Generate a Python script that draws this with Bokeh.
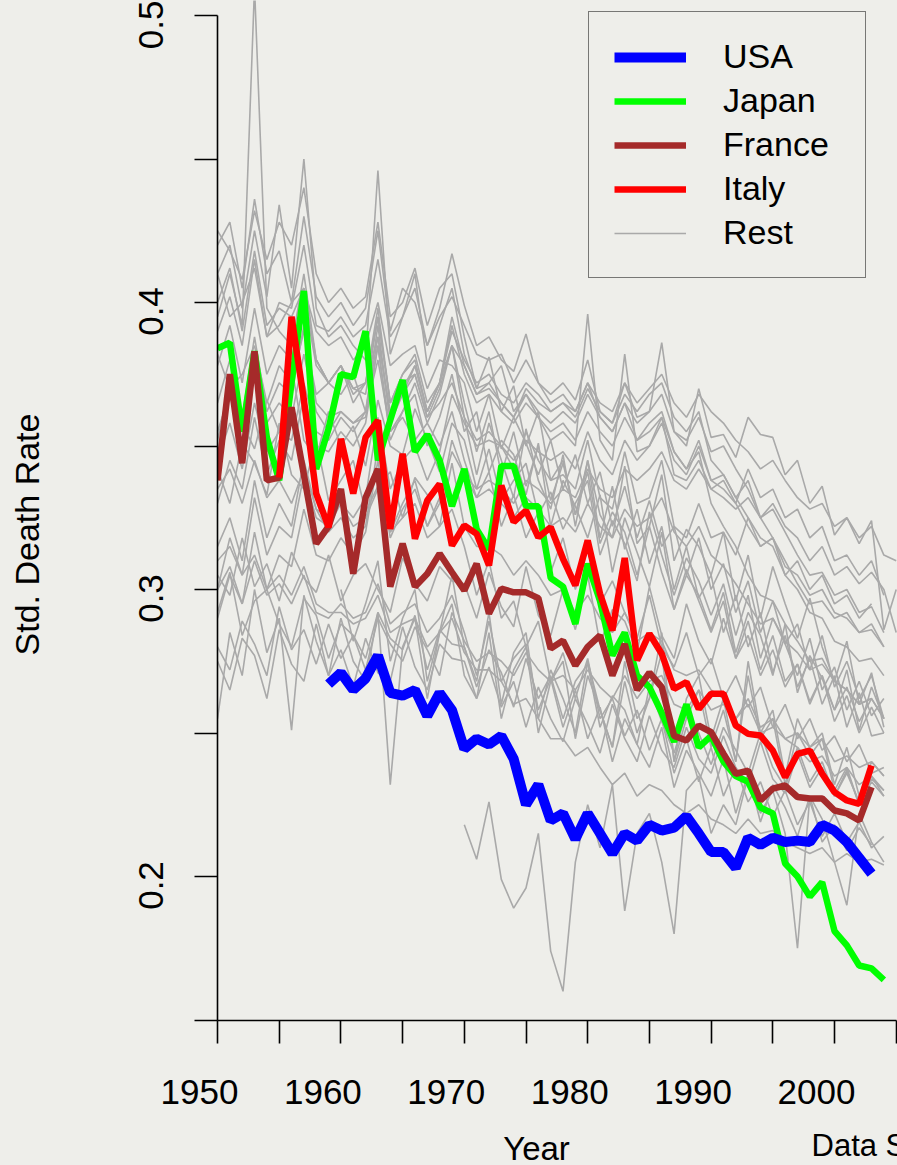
import math
from bokeh.plotting import figure
from bokeh.layouts import column, row
from bokeh.models import (Range1d, LinearAxis, FixedTicker, Legend, LegendItem, Label,
                          CustomJSTickFormatter)
from bokeh.embed import file_html
from bokeh.resources import INLINE

# ---------------- data ----------------
usa_start = 1959
usa = [0.267, 0.271, 0.265, 0.269, 0.277, 0.264, 0.263, 0.265, 0.256, 0.264, 0.258,
       0.2445, 0.248, 0.246, 0.249, 0.241, 0.225, 0.232, 0.2195, 0.222, 0.213,
       0.222, 0.215, 0.208, 0.215, 0.2125, 0.218, 0.216, 0.217, 0.221, 0.215,
       0.2085, 0.2085, 0.203, 0.2135, 0.211, 0.2135, 0.212, 0.2125, 0.212, 0.218,
       0.216, 0.212, 0.2065, 0.201]

japan_start = 1950
japan = [0.384, 0.386, 0.355, 0.383, 0.353, 0.338, 0.372, 0.404, 0.342, 0.356,
         0.375, 0.374, 0.390, 0.345, 0.359, 0.373, 0.348, 0.354, 0.345, 0.329,
         0.342, 0.321, 0.314, 0.343, 0.343, 0.329, 0.329, 0.304, 0.301, 0.288,
         0.309, 0.296, 0.277, 0.285, 0.270, 0.266, 0.257, 0.247, 0.260, 0.245,
         0.249, 0.240, 0.235, 0.233, 0.224, 0.222, 0.2045, 0.200, 0.193, 0.198,
         0.181, 0.176, 0.169, 0.168, 0.164]

france_start = 1950
france = [0.338, 0.375, 0.344, 0.383, 0.338, 0.339, 0.3635, 0.340, 0.316, 0.322,
          0.335, 0.3055, 0.332, 0.342, 0.301, 0.316, 0.301, 0.3055, 0.3125, 0.306,
          0.2997, 0.309, 0.2916, 0.3003, 0.299, 0.299, 0.297, 0.2794, 0.2822, 0.2735,
          0.280, 0.284, 0.270, 0.281, 0.265, 0.271, 0.266, 0.249, 0.2474, 0.2526,
          0.2503, 0.2428, 0.2358, 0.2369, 0.2265, 0.2306, 0.2317, 0.2277, 0.2272, 0.2272,
          0.223, 0.222, 0.2195, 0.2311]

italy_start = 1955
italy = [0.339, 0.395, 0.366, 0.3334, 0.3217,
         0.3525, 0.3334, 0.353, 0.3589, 0.3211, 0.3473, 0.3177, 0.331, 0.3368, 0.3153,
         0.3223, 0.3194, 0.3084, 0.3362, 0.3235, 0.3275, 0.3182, 0.3217, 0.3107, 0.3014,
         0.3171, 0.2985, 0.2857, 0.311, 0.2753, 0.2846, 0.2776, 0.2654, 0.2677, 0.2584,
         0.2637, 0.2637, 0.2526, 0.2497, 0.2491, 0.2439, 0.2346, 0.2427, 0.2439, 0.2358,
         0.2294, 0.2265, 0.2253, 0.2387]

rest_01 = [0.420, 0.428, 0.405, 0.436, 0.410, 0.418, 0.400, 0.430, 0.402, 0.395,
           0.400, 0.392, 0.398, 0.425, 0.390, 0.405, 0.400, 0.385, 0.398, 0.417,
           0.399, 0.385, 0.388, 0.380, 0.376, 0.389, 0.372, 0.368, 0.372, 0.366,
           0.380, 0.362, 0.358, 0.372, 0.360, 0.362, 0.386, 0.355, 0.350, 0.370,
           0.353, 0.354, 0.346, 0.360, 0.354, 0.353, 0.340, 0.345, 0.330, 0.336,
           0.319, 0.325, 0.316, 0.324, 0.286, 0.300]
rest_02 = [0.410, 0.420, 0.398, 0.425, 0.402, 0.434, 0.405, 0.450, 0.398, 0.388,
           0.392, 0.385, 0.380, 0.446, 0.382, 0.395, 0.410, 0.378, 0.392, 0.405,
           0.382, 0.370, 0.372, 0.378, 0.362, 0.368, 0.360, 0.352, 0.355, 0.350,
           0.396, 0.352, 0.345, 0.382, 0.348, 0.350, 0.360, 0.340, 0.338, 0.345,
           0.335, 0.338, 0.330, 0.342, 0.332, 0.335, 0.325, 0.328, 0.318, 0.322,
           0.310, 0.312, 0.305, 0.310, 0.298]
rest_03 = [0.395, 0.410, 0.392, 0.510, 0.398, 0.390, 0.385, 0.410, 0.380, 0.372,
           0.378, 0.370, 0.368, 0.395, 0.365, 0.372, 0.375, 0.360, 0.370, 0.385,
           0.360, 0.352, 0.355, 0.350, 0.342, 0.355, 0.345, 0.338, 0.340, 0.335,
           0.352, 0.332, 0.328, 0.348, 0.330, 0.332, 0.345, 0.322, 0.318, 0.330,
           0.318, 0.320, 0.312, 0.325, 0.315, 0.318, 0.305, 0.310, 0.300, 0.305,
           0.295, 0.298, 0.290, 0.295]
rest_04 = [0.425, 0.418, 0.408, 0.432, 0.415, 0.428, 0.420, 0.440, 0.410, 0.400,
           0.405, 0.398, 0.402, 0.428, 0.395, 0.400, 0.412, 0.392, 0.405, 0.410,
           0.388, 0.370, 0.381, 0.362, 0.371, 0.350, 0.362, 0.338, 0.345, 0.326,
           0.341, 0.316, 0.327, 0.320, 0.305, 0.322, 0.306, 0.293, 0.307, 0.296,
           0.285, 0.296, 0.276, 0.289, 0.272, 0.284, 0.268, 0.274, 0.260, 0.270,
           0.254, 0.263, 0.250, 0.259, 0.250]
rest_05 = [0.400, 0.412, 0.390, 0.418, 0.392, 0.398, 0.395, 0.405, 0.390, 0.385,
           0.388, 0.380, 0.385, 0.400, 0.378, 0.382, 0.385, 0.370, 0.380, 0.378,
           0.372, 0.355, 0.368, 0.349, 0.360, 0.351, 0.340, 0.352, 0.335, 0.347,
           0.330, 0.341, 0.322, 0.336, 0.318, 0.331, 0.315, 0.322, 0.305, 0.318,
           0.300, 0.309, 0.292, 0.303, 0.285, 0.296, 0.281, 0.288, 0.272, 0.284,
           0.266, 0.275, 0.262, 0.270, 0.255]
rest_06 = [0.330, 0.345, 0.335, 0.360, 0.340, 0.352, 0.345, 0.368, 0.350, 0.348,
           0.355, 0.350, 0.358, 0.385, 0.352, 0.362, 0.372, 0.358, 0.368, 0.385,
           0.378, 0.368, 0.372, 0.365, 0.360, 0.370, 0.365, 0.362, 0.365, 0.360,
           0.370, 0.362, 0.358, 0.368, 0.362, 0.368, 0.372, 0.360, 0.355, 0.362,
           0.345, 0.340, 0.332, 0.325, 0.318, 0.315, 0.305, 0.300, 0.292, 0.290,
           0.282, 0.280, 0.275, 0.276, 0.270]
rest_07 = [0.300, 0.318, 0.305, 0.332, 0.312, 0.322, 0.318, 0.340, 0.325, 0.322,
           0.330, 0.325, 0.332, 0.360, 0.335, 0.345, 0.350, 0.338, 0.348, 0.368,
           0.358, 0.350, 0.352, 0.350, 0.345, 0.352, 0.348, 0.345, 0.348, 0.342,
           0.355, 0.345, 0.340, 0.352, 0.345, 0.350, 0.358, 0.345, 0.340, 0.350,
           0.338, 0.335, 0.330, 0.322, 0.315, 0.318, 0.308, 0.305, 0.298, 0.300,
           0.292, 0.290, 0.285, 0.288, 0.280]
rest_08 = [0.315, 0.325, 0.310, 0.338, 0.318, 0.330, 0.322, 0.345, 0.328, 0.320,
           0.325, 0.318, 0.322, 0.350, 0.320, 0.330, 0.338, 0.322, 0.332, 0.348,
           0.340, 0.332, 0.335, 0.330, 0.325, 0.332, 0.328, 0.322, 0.325, 0.320,
           0.330, 0.322, 0.318, 0.328, 0.322, 0.325, 0.332, 0.320, 0.315, 0.322,
           0.312, 0.308, 0.302, 0.295, 0.288, 0.290, 0.282, 0.278, 0.272, 0.274,
           0.268, 0.265, 0.260, 0.262]
rest_09 = [0.292, 0.306, 0.284, 0.296, 0.300, 0.288, 0.280, 0.297, 0.291, 0.276,
           0.288, 0.284, 0.276, 0.292, 0.283, 0.279, 0.291, 0.272, 0.286, 0.281,
           0.280, 0.266, 0.279, 0.271, 0.259, 0.276, 0.262, 0.270, 0.255, 0.268,
           0.274, 0.252, 0.263, 0.258, 0.246, 0.266, 0.254, 0.243, 0.257, 0.250,
           0.239, 0.252, 0.244, 0.236, 0.250, 0.238, 0.231, 0.245, 0.233, 0.240,
           0.228, 0.237, 0.225, 0.233, 0.228]
rest_10 = [0.280, 0.272, 0.289, 0.281, 0.270, 0.294, 0.279, 0.286, 0.274, 0.288,
           0.276, 0.284, 0.272, 0.290, 0.281, 0.275, 0.287, 0.279, 0.270, 0.292,
           0.282, 0.275, 0.278, 0.275, 0.270, 0.278, 0.272, 0.268, 0.270, 0.265,
           0.272, 0.266, 0.262, 0.270, 0.262, 0.268, 0.270, 0.260, 0.258, 0.265,
           0.258, 0.260, 0.255, 0.262, 0.252, 0.255, 0.248, 0.250, 0.245, 0.248,
           0.240, 0.242, 0.238, 0.240, 0.235]
rest_11 = [0.255, 0.285, 0.270, 0.300, 0.278, 0.290, 0.251, 0.298, 0.282, 0.270,
           0.290, 0.275, 0.268, 0.292, 0.232, 0.280, 0.290, 0.262, 0.285, 0.295,
           0.270, 0.262, 0.285, 0.255, 0.272, 0.280, 0.250, 0.268, 0.275, 0.248,
           0.270, 0.258, 0.245, 0.275, 0.255, 0.262, 0.285, 0.240, 0.262, 0.270,
           0.248, 0.262, 0.240, 0.275, 0.250, 0.258, 0.235, 0.255, 0.245, 0.250,
           0.232, 0.245, 0.228, 0.240, 0.235]
rest_12 = [0.218, 0.206, 0.226, 0.199, 0.189, 0.196, 0.215, 0.174, 0.160, 0.205,
           0.225, 0.210, 0.232, 0.188, 0.215, 0.222, 0.205, 0.180, 0.230, 0.235,
           0.215, 0.225, 0.218, 0.235, 0.222, 0.230, 0.215, 0.175, 0.228, 0.220,
           0.205, 0.190, 0.222, 0.212, 0.205]
rest_13 = [0.300, 0.282, 0.295, 0.310, 0.275, 0.290, 0.300, 0.268, 0.285, 0.305,
           0.280, 0.268, 0.292, 0.260, 0.278, 0.285, 0.255, 0.272, 0.262, 0.250,
           0.275, 0.258, 0.245, 0.268, 0.250, 0.262, 0.278, 0.240, 0.255, 0.265,
           0.245, 0.258, 0.240, 0.270, 0.248, 0.255, 0.232, 0.250, 0.242, 0.248,
           0.230, 0.238, 0.225, 0.235, 0.228]
rest_14 = [0.352, 0.372, 0.358, 0.349, 0.366, 0.355, 0.378, 0.352, 0.346, 0.362,
           0.350, 0.357, 0.343, 0.366, 0.350, 0.347, 0.363, 0.352, 0.341, 0.358,
           0.352, 0.335, 0.349, 0.331, 0.338, 0.344, 0.326, 0.334, 0.321, 0.330,
           0.338, 0.312, 0.324, 0.316, 0.303, 0.327, 0.312, 0.298, 0.311, 0.303,
           0.291, 0.302, 0.284, 0.298, 0.276, 0.290, 0.281, 0.270, 0.283, 0.265,
           0.273, 0.258, 0.268, 0.256, 0.262]
rest_15 = [0.410, 0.395, 0.400, 0.412, 0.388, 0.392, 0.400, 0.405, 0.380, 0.372,
           0.368, 0.375, 0.362, 0.380, 0.355, 0.360, 0.352, 0.358, 0.350, 0.362,
           0.345, 0.332, 0.341, 0.322, 0.333, 0.318, 0.327, 0.306, 0.318, 0.300,
           0.314, 0.295, 0.303, 0.292, 0.283, 0.298, 0.280, 0.273, 0.285, 0.270,
           0.276, 0.262, 0.270, 0.259, 0.266, 0.252, 0.260, 0.248, 0.255, 0.244,
           0.249, 0.240, 0.246, 0.236, 0.238]
rest_16 = [0.390, 0.402, 0.385, 0.415, 0.388, 0.400, 0.398, 0.420, 0.392, 0.390,
           0.395, 0.388, 0.392, 0.415, 0.388, 0.395, 0.405, 0.385, 0.395, 0.402,
           0.392, 0.382, 0.380, 0.382, 0.372, 0.380, 0.372, 0.365, 0.368, 0.362,
           0.372, 0.360, 0.355, 0.365, 0.352, 0.358, 0.362, 0.348, 0.342, 0.352,
           0.338, 0.340, 0.332, 0.338, 0.325, 0.330, 0.322, 0.318, 0.310, 0.315,
           0.305, 0.308, 0.302, 0.306, 0.300, 0.285]
rest_17 = [0.378, 0.392, 0.372, 0.398, 0.375, 0.385, 0.380, 0.402, 0.378, 0.372,
           0.378, 0.370, 0.372, 0.395, 0.365, 0.375, 0.380, 0.362, 0.372, 0.385,
           0.365, 0.348, 0.362, 0.340, 0.355, 0.336, 0.350, 0.331, 0.344, 0.326,
           0.345, 0.318, 0.336, 0.314, 0.328, 0.309, 0.322, 0.300, 0.315, 0.297,
           0.305, 0.285, 0.298, 0.280, 0.292, 0.271, 0.284, 0.266, 0.276, 0.260,
           0.270, 0.252, 0.264, 0.249, 0.250]
rest_18 = [0.365, 0.380, 0.360, 0.388, 0.362, 0.372, 0.368, 0.392, 0.365, 0.360,
           0.362, 0.358, 0.360, 0.385, 0.355, 0.362, 0.368, 0.350, 0.360, 0.375,
           0.355, 0.362, 0.341, 0.352, 0.347, 0.333, 0.351, 0.322, 0.338, 0.329,
           0.318, 0.333, 0.306, 0.325, 0.313, 0.301, 0.320, 0.293, 0.305, 0.298,
           0.286, 0.299, 0.278, 0.292, 0.284, 0.270, 0.288, 0.264, 0.277, 0.269,
           0.258, 0.272, 0.251, 0.266, 0.255]
rest_19 = [0.342, 0.330, 0.351, 0.344, 0.333, 0.358, 0.340, 0.335, 0.352, 0.331,
           0.338, 0.345, 0.327, 0.336, 0.341, 0.325, 0.339, 0.333, 0.322, 0.344,
           0.322, 0.315, 0.315, 0.312, 0.305, 0.310, 0.305, 0.298, 0.300, 0.292,
           0.298, 0.290, 0.285, 0.292, 0.282, 0.285, 0.282, 0.272, 0.270, 0.272,
           0.265, 0.262, 0.255, 0.260, 0.250, 0.252, 0.248, 0.245, 0.240, 0.242,
           0.235, 0.238, 0.232, 0.235, 0.230]
rest_20 = [0.305, 0.298, 0.318, 0.301, 0.309, 0.296, 0.313, 0.304, 0.299, 0.312,
           0.296, 0.305, 0.309, 0.300, 0.292, 0.311, 0.302, 0.296, 0.308, 0.303,
           0.302, 0.290, 0.306, 0.294, 0.287, 0.308, 0.291, 0.284, 0.300, 0.286,
           0.305, 0.281, 0.293, 0.289, 0.278, 0.301, 0.284, 0.276, 0.295, 0.282,
           0.274, 0.290, 0.276, 0.284, 0.270, 0.279, 0.266, 0.274, 0.261, 0.270,
           0.258, 0.266, 0.254, 0.262, 0.255]
rest_21 = [0.310, 0.315, 0.305, 0.312, 0.300, 0.305, 0.298, 0.308, 0.295, 0.292,
           0.292, 0.288, 0.290, 0.298, 0.285, 0.288, 0.290, 0.280, 0.285, 0.290,
           0.278, 0.272, 0.272, 0.268, 0.260, 0.262, 0.255, 0.248, 0.248, 0.242,
           0.245, 0.238, 0.232, 0.236, 0.228, 0.232, 0.230, 0.225, 0.222, 0.225,
           0.220, 0.218, 0.215, 0.220, 0.215, 0.216, 0.212, 0.210, 0.208, 0.210,
           0.205, 0.208, 0.205, 0.206, 0.204]
rest_22 = [0.335, 0.342, 0.330, 0.345, 0.332, 0.338, 0.330, 0.342, 0.328, 0.325,
           0.330, 0.322, 0.325, 0.335, 0.320, 0.325, 0.330, 0.318, 0.322, 0.328,
           0.315, 0.298, 0.310, 0.290, 0.296, 0.280, 0.289, 0.268, 0.278, 0.262,
           0.276, 0.255, 0.262, 0.249, 0.258, 0.244, 0.255, 0.236, 0.248, 0.233,
           0.245, 0.228, 0.238, 0.226, 0.233, 0.221, 0.230, 0.218, 0.226, 0.214,
           0.222, 0.212, 0.219, 0.210, 0.214]
rest_23 = [0.382, 0.370, 0.375, 0.385, 0.365, 0.378, 0.372, 0.390, 0.368, 0.372,
           0.378, 0.365, 0.372, 0.388, 0.362, 0.368, 0.375, 0.360, 0.365, 0.372,
           0.360, 0.340, 0.358, 0.345, 0.332, 0.356, 0.338, 0.328, 0.347, 0.322,
           0.345, 0.326, 0.318, 0.343, 0.316, 0.322, 0.340, 0.310, 0.321, 0.315,
           0.305, 0.320, 0.296, 0.312, 0.290, 0.308, 0.295, 0.283, 0.297, 0.280,
           0.268, 0.282, 0.260, 0.271, 0.252]
rest_24 = [0.345, 0.358, 0.342, 0.365, 0.348, 0.355, 0.352, 0.372, 0.355, 0.352,
           0.360, 0.355, 0.362, 0.392, 0.358, 0.368, 0.378, 0.362, 0.372, 0.390,
           0.380, 0.372, 0.375, 0.368, 0.365, 0.372, 0.368, 0.362, 0.365, 0.362,
           0.372, 0.365, 0.362, 0.372, 0.365, 0.370, 0.375, 0.365, 0.360, 0.368,
           0.362, 0.358, 0.352, 0.348, 0.342, 0.345, 0.338, 0.332, 0.328, 0.330,
           0.322, 0.325, 0.318, 0.322, 0.312, 0.310]
rest_25 = [0.300, 0.308, 0.295, 0.310, 0.298, 0.302, 0.295, 0.305, 0.292, 0.290,
           0.295, 0.290, 0.292, 0.302, 0.288, 0.292, 0.295, 0.285, 0.290, 0.298,
           0.285, 0.270, 0.289, 0.268, 0.276, 0.281, 0.258, 0.269, 0.252, 0.265,
           0.248, 0.259, 0.240, 0.255, 0.246, 0.238, 0.252, 0.231, 0.244, 0.236,
           0.228, 0.241, 0.222, 0.236, 0.219, 0.232, 0.224, 0.214, 0.228, 0.212,
           0.218, 0.209, 0.217, 0.211]
rest_26 = [0.275, 0.265, 0.283, 0.277, 0.262, 0.286, 0.274, 0.268, 0.288, 0.270,
           0.279, 0.266, 0.283, 0.271, 0.268, 0.287, 0.273, 0.265, 0.281, 0.276,
           0.275, 0.262, 0.273, 0.259, 0.268, 0.252, 0.266, 0.255, 0.247, 0.262,
           0.253, 0.243, 0.260, 0.248, 0.240, 0.256, 0.244, 0.238, 0.252, 0.241,
           0.236, 0.249, 0.238, 0.232, 0.247, 0.234, 0.229, 0.243, 0.231, 0.238,
           0.228, 0.236, 0.226, 0.234, 0.230]
rest_27 = [0.355, 0.368, 0.350, 0.378, 0.358, 0.365, 0.360, 0.382, 0.362, 0.355,
           0.362, 0.358, 0.362, 0.388, 0.360, 0.370, 0.378, 0.362, 0.372, 0.392,
           0.375, 0.365, 0.368, 0.362, 0.358, 0.365, 0.360, 0.355, 0.358, 0.352,
           0.362, 0.355, 0.350, 0.360, 0.352, 0.355, 0.360, 0.348, 0.342, 0.348,
           0.330, 0.322, 0.315, 0.305, 0.298, 0.296, 0.288, 0.282, 0.275, 0.276,
           0.268, 0.265, 0.260, 0.262, 0.255]
rest_28 = [0.380, 0.372,
           0.378, 0.368, 0.372, 0.398, 0.365, 0.375, 0.382, 0.365, 0.372, 0.395,
           0.378, 0.368, 0.370, 0.365, 0.360, 0.368, 0.362, 0.358, 0.362, 0.358,
           0.368, 0.360, 0.355, 0.365, 0.358, 0.362, 0.368, 0.355, 0.352, 0.360,
           0.348, 0.350, 0.342, 0.335, 0.325, 0.318, 0.310, 0.302, 0.295, 0.296,
           0.290, 0.292, 0.285, 0.286, 0.280]
rest_29 = [0.290, 0.305, 0.295, 0.320, 0.300, 0.312, 0.308, 0.328, 0.312, 0.310,
           0.318, 0.312, 0.320, 0.345, 0.318, 0.328, 0.335, 0.322, 0.330, 0.352,
           0.340, 0.335, 0.338, 0.335, 0.330, 0.338, 0.335, 0.330, 0.335, 0.332,
           0.342, 0.335, 0.332, 0.342, 0.338, 0.342, 0.348, 0.338, 0.335, 0.342,
           0.335, 0.332, 0.328, 0.332, 0.325, 0.328, 0.320, 0.312, 0.305, 0.306,
           0.298, 0.300, 0.292, 0.294, 0.285]

rest = [rest_01, rest_02, rest_03, rest_04, rest_05, rest_06, rest_07, rest_08,
        rest_09, rest_10, rest_11, rest_12, rest_13, rest_14, rest_15, rest_16,
        rest_17, rest_18, rest_19, rest_20, rest_21, rest_22, rest_23, rest_24,
        rest_25, rest_26, rest_27, rest_28, rest_29]
rest_starts = [1950, 1950, 1950, 1950, 1950, 1950, 1950, 1950,
               1950, 1950, 1950, 1970, 1960, 1950, 1950, 1950,
               1950, 1950, 1950, 1950, 1950, 1950, 1950, 1950,
               1950, 1950, 1950, 1958, 1950]

x_ticks = [1950, 1955, 1960, 1965, 1970, 1975, 1980, 1985, 1990, 1995, 2000, 2005]
x_labels = [1950, 1960, 1970, 1980, 1990, 2000]
y_major = [0.2, 0.3, 0.4, 0.5]
y_minor = [0.15, 0.25, 0.35, 0.45]

legend_names = ["USA", "Japan", "France", "Italy", "Rest"]
y_title = "Std. Death Rate"
x_title = "Year"
source_note = "Data Source: Human Mortality Database"

# ---------------- layout / style ----------------
W, H = 897, 1165
BG = "#EEEEEA"
FONT = "Liberation Sans"
FRAME_LEFT = 217          # absolute x of the plot frame's left edge
FRAME_H = 1020            # frame height (top of canvas to x axis line)
LW = 60                   # width of the strip holding the y title
HP = 1046                 # height of the main plot (frame + tick marks)
HB = H - HP               # strip holding x tick labels and titles
PX_PER_YEAR = 12.34
X0 = 1950
X1 = X0 + (W - FRAME_LEFT) / PX_PER_YEAR
PX_PER_UNIT = 2870.0
Y1 = 0.5 + 15 / PX_PER_UNIT
Y0 = Y1 - FRAME_H / PX_PER_UNIT
LABEL_SHIFT_PX = 18       # x tick labels sit slightly left of their ticks
Y_LABEL_SHIFT_PX = 9      # y tick labels sit slightly below their ticks
BLANK = CustomJSTickFormatter(code="return ''")

def style(fig):
    fig.background_fill_color = None
    fig.border_fill_color = BG
    fig.outline_line_color = None
    fig.grid.visible = False

p = figure(width=W - LW, height=HP, output_backend="svg", toolbar_location=None,
           x_range=Range1d(X0, X1), y_range=Range1d(Y0, Y1),
           x_axis_location=None, y_axis_location=None,
           min_border_left=FRAME_LEFT - LW, min_border_right=0,
           min_border_top=0, min_border_bottom=HP - FRAME_H)
style(p)

def years(start, vals):
    return [start + i for i in range(len(vals))]

r_rest = p.multi_line(xs=[years(s, v) for s, v in zip(rest_starts, rest)],
                      ys=rest, line_color="#A9A9A9", line_width=1.6)
r_jp = p.line(years(japan_start, japan), japan, line_color="#00FF00", line_width=6.5)
r_fr = p.line(years(france_start, france), france, line_color="#A52A2A", line_width=6.5)
r_it = p.line(years(italy_start, italy), italy, line_color="#FF0000", line_width=6.5)
r_us = p.line(years(usa_start, usa), usa, line_color="#0000FF", line_width=10)

# y axis: line and ticks
yaxis_ticks = LinearAxis(ticker=FixedTicker(ticks=y_major, minor_ticks=y_minor),
                         bounds=(0.15, 0.5), formatter=BLANK,
                         axis_line_width=1.6, axis_line_color="black",
                         major_tick_out=23, major_tick_in=0, minor_tick_out=23, minor_tick_in=0,
                         major_tick_line_width=1.6, minor_tick_line_width=1.6,
                         minor_tick_line_color="black",
                         major_label_text_font_size="1px", major_label_standoff=0)
p.add_layout(yaxis_ticks, "left")
# y axis: labels (same scale, shifted slightly down as in the reference)
p.extra_y_ranges = {"ylab": Range1d(Y0 + Y_LABEL_SHIFT_PX / PX_PER_UNIT,
                                    Y1 + Y_LABEL_SHIFT_PX / PX_PER_UNIT)}
yaxis_labels = LinearAxis(y_range_name="ylab", ticker=FixedTicker(ticks=y_major),
                          axis_line_color=None, major_tick_line_color=None,
                          minor_tick_line_color=None, major_tick_out=0, major_tick_in=0,
                          major_label_orientation="vertical", major_label_standoff=32,
                          major_label_text_font=FONT, major_label_text_font_size="35px",
                          major_label_text_color="black")
p.add_layout(yaxis_labels, "left")

xaxis_ticks = LinearAxis(ticker=FixedTicker(ticks=x_ticks), bounds=(1950, 2005),
                         formatter=BLANK,
                         axis_line_width=1.6, axis_line_color="black",
                         major_tick_out=23, major_tick_in=0,
                         major_tick_line_width=1.6,
                         minor_tick_line_color=None,
                         major_label_text_font_size="1px", major_label_standoff=0)
p.add_layout(xaxis_ticks, "below")

legend = Legend(items=[LegendItem(label=legend_names[0], renderers=[r_us]),
                       LegendItem(label=legend_names[1], renderers=[r_jp]),
                       LegendItem(label=legend_names[2], renderers=[r_fr]),
                       LegendItem(label=legend_names[3], renderers=[r_it]),
                       LegendItem(label=legend_names[4], renderers=[r_rest])],
                location=(588 - FRAME_LEFT, FRAME_H - 278), margin=0, padding=25,
                spacing=5, glyph_width=72, glyph_height=38, label_height=38,
                label_width=117, label_standoff=37,
                label_text_font=FONT, label_text_font_size="34px",
                label_text_color="black",
                border_line_color="black", border_line_width=1.6,
                background_fill_alpha=0)
p.add_layout(legend)

# left strip: y axis title
left = figure(width=LW, height=HP, output_backend="svg", toolbar_location=None,
              x_range=Range1d(0, 1), y_range=Range1d(0, 1),
              x_axis_location=None, y_axis_location=None,
              min_border_left=0, min_border_right=0, min_border_top=0, min_border_bottom=0)
style(left)
left.add_layout(Label(x=26, y=HP - 536 - 24, x_units="screen", y_units="screen",
                      angle=math.pi / 2, text=y_title, text_align="center",
                      text_baseline="alphabetic", text_font=FONT,
                      text_font_size="34px", text_color="black"))

# bottom strip: x tick labels (own axis, same scale, shifted left) and titles
b_left = FRAME_LEFT - LABEL_SHIFT_PX
bottom = figure(width=W, height=HB, output_backend="svg", toolbar_location=None,
                x_range=Range1d(X0, X0 + (W - b_left) / PX_PER_YEAR), y_range=Range1d(0, 1),
                x_axis_location=None, y_axis_location=None,
                min_border_left=b_left, min_border_right=0,
                min_border_top=57, min_border_bottom=0)
style(bottom)
xaxis_labels = LinearAxis(ticker=FixedTicker(ticks=x_labels),
                          axis_line_color=None, major_tick_line_color=None,
                          minor_tick_line_color=None, major_tick_out=0, major_tick_in=0,
                          major_label_standoff=0,
                          major_label_text_font=FONT, major_label_text_font_size="35px",
                          major_label_text_color="black")
bottom.add_layout(xaxis_labels, "above")
bottom.add_layout(Label(x=536 - b_left, y=H - 1158 + 10, x_units="screen", y_units="screen",
                        text=x_title, text_align="center", text_baseline="alphabetic",
                        text_font=FONT, text_font_size="33px", text_color="black"))
bottom.add_layout(Label(x=811 - b_left, y=H - 1154 + 9, x_units="screen", y_units="screen",
                        text=source_note, text_align="left", text_baseline="alphabetic",
                        text_font=FONT, text_font_size="31px", text_color="black"))

layout = column(row(left, p, spacing=0), bottom, spacing=0)
html = file_html(layout, INLINE)
html = html.replace("<head>", "<head><style>html, body { background: %s; margin: 0; }</style>" % BG, 1)
open("out.html", "w").write(html)
